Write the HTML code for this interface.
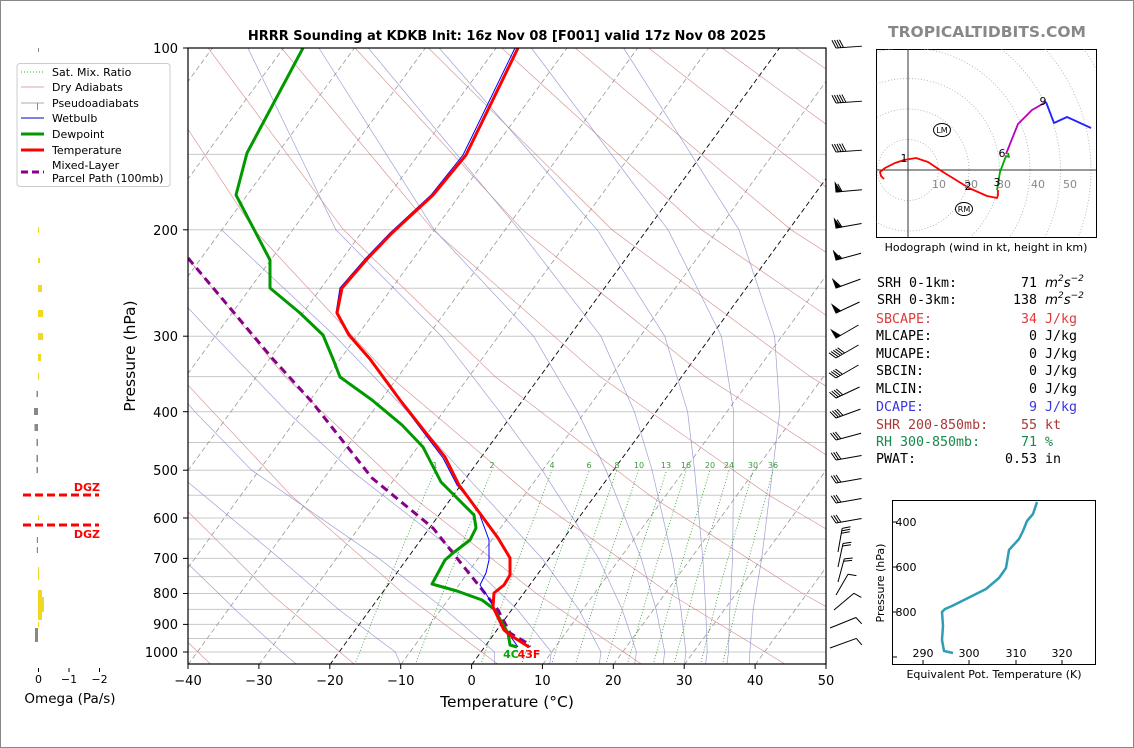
<!DOCTYPE html>
<html><head><meta charset="utf-8">
<style>
html,body{margin:0;padding:0;background:#fff;}
svg{display:block;font-family:"DejaVu Sans","Liberation Sans",sans-serif;}
</style></head>
<body>
<svg width="1134" height="748" viewBox="0 0 1134 748" xmlns="http://www.w3.org/2000/svg">
<defs>
<clipPath id="cp"><rect x="188" y="48" width="638" height="616"/></clipPath>
<clipPath id="hc"><rect x="876" y="49" width="220" height="188"/></clipPath>
</defs>
<rect x="0.5" y="0.5" width="1133" height="747" fill="#fff" stroke="#888"/>

<g clip-path="url(#cp)">
<g stroke="#c8c8c8" stroke-width="1">
<line x1="188" x2="826" y1="154.4" y2="154.4"/><line x1="188" x2="826" y1="229.8" y2="229.8"/><line x1="188" x2="826" y1="288.3" y2="288.3"/><line x1="188" x2="826" y1="336.2" y2="336.2"/><line x1="188" x2="826" y1="376.6" y2="376.6"/><line x1="188" x2="826" y1="411.7" y2="411.7"/><line x1="188" x2="826" y1="442.5" y2="442.5"/><line x1="188" x2="826" y1="470.2" y2="470.2"/><line x1="188" x2="826" y1="495.2" y2="495.2"/><line x1="188" x2="826" y1="518" y2="518"/><line x1="188" x2="826" y1="539" y2="539"/><line x1="188" x2="826" y1="558.4" y2="558.4"/><line x1="188" x2="826" y1="576.6" y2="576.6"/><line x1="188" x2="826" y1="593.5" y2="593.5"/><line x1="188" x2="826" y1="609.4" y2="609.4"/><line x1="188" x2="826" y1="624.4" y2="624.4"/><line x1="188" x2="826" y1="638.5" y2="638.5"/><line x1="188" x2="826" y1="652" y2="652"/>
</g>
<g stroke="#999" stroke-width="0.8" stroke-dasharray="5,3">
<line x1="-237.3" y1="664.8" x2="212.4" y2="48"/><line x1="-166.2" y1="664.8" x2="283.5" y2="48"/><line x1="-95.3" y1="664.8" x2="354.4" y2="48"/><line x1="-24.4" y1="664.8" x2="425.3" y2="48"/><line x1="46.4" y1="664.8" x2="496.1" y2="48"/><line x1="117.3" y1="664.8" x2="567" y2="48"/><line x1="188" y1="664.8" x2="637.7" y2="48"/><line x1="258.9" y1="664.8" x2="708.6" y2="48"/><line x1="400.7" y1="664.8" x2="850.4" y2="48"/><line x1="542.4" y1="664.8" x2="992.1" y2="48"/><line x1="613.3" y1="664.8" x2="1063" y2="48"/><line x1="684.2" y1="664.8" x2="1133.9" y2="48"/><line x1="755.1" y1="664.8" x2="1204.8" y2="48"/>
</g>
<g stroke="#000" stroke-width="0.9" stroke-dasharray="5,3">
<line x1="329.8" y1="664.8" x2="779.5" y2="48"/><line x1="471.6" y1="664.8" x2="921.3" y2="48"/>
</g>
<g fill="none" stroke="#d08080" stroke-width="0.7" stroke-opacity="0.8">
<polyline points="211.2,664.8 137.5,593.5"/>
<polyline points="355,664.8 270.5,593.5 171.4,495.2 75,376.6"/>
<polyline points="498.7,664.8 403.4,593.5 290.8,495.2 180,376.6 74.9,229.8"/>
<polyline points="642.5,664.8 536.5,593.5 410.3,495.2 285.1,376.6 164.4,229.8 61.3,48"/>
<polyline points="786.2,664.8 669.5,593.5 529.9,495.2 390.1,376.6 254,229.8 134.7,48"/>
<polyline points="930.1,664.8 802.6,593.5 649.4,495.2 495.1,376.6 343.5,229.8 208.1,48"/>
<polyline points="1073.9,664.8 935.5,593.5 768.9,495.2 600.1,376.6 433,229.8 281.5,48"/>
<polyline points="1217.5,664.8 1068.5,593.5 888.4,495.2 705.2,376.6 522.5,229.8 355,48"/>
<polyline points="1361.4,664.8 1201.6,593.5 1007.9,495.2 810.2,376.6 612,229.8 428.4,48"/>
<polyline points="1334.6,593.5 1127.5,495.2 915.3,376.6 701.6,229.8 501.8,48"/>
<polyline points="1246.9,495.2 1020.2,376.6 791,229.8 575.2,48"/>
<polyline points="1366.5,495.2 1125.3,376.6 880.6,229.8 648.6,48"/>
<polyline points="1230.3,376.6 970.1,229.8 722.1,48"/>
<polyline points="1335.4,376.6 1059.6,229.8 795.5,48"/>
<polyline points="1440.4,376.6 1149.2,229.8 869,48"/>
</g>
<g fill="none" stroke="#8888cc" stroke-width="0.7" stroke-opacity="0.8">
<polyline points="297.2,664.8 281.9,652 235,609.4 182.5,558.4"/>
<polyline points="400.7,664.8 395.3,652 338.5,609.4 279.6,558.4 173.6,470.2"/>
<polyline points="494.3,664.8 494.6,652 444.9,609.4 378.9,558.4 251.6,470.2 194.9,411.7 129.5,336.2"/>
<polyline points="549.6,664.8 551.3,652 517.2,609.4 464,558.4 350.8,470.2 287.1,411.7 214.6,336.2 115.2,229.8"/>
<polyline points="599.2,664.8 600.9,652 578.8,609.4 542,558.4 460.7,470.2 407.6,411.7 335.1,336.2 221.5,229.8"/>
<polyline points="634.6,664.8 636.4,652 622.1,609.4 598.6,558.4 542.2,470.2 499.7,411.7 441.4,336.2 335.9,229.8 247.9,48"/>
<polyline points="663,664.8 664.7,652 656.1,609.4 641.2,558.4 606,470.2 577.7,411.7 533.6,336.2 434.2,229.8 318.9,48"/>
<polyline points="684.3,664.8 685.9,652 680.9,609.4 672.3,558.4 652.1,470.2 634.4,411.7 600.9,336.2 519.2,229.8 368.3,48"/>
<polyline points="705.5,664.8 707.2,652 705.7,609.4 702.8,558.4 694.6,470.2 687.6,411.7 664.7,336.2 597.2,229.8 439.2,48"/>
<polyline points="726.8,664.8 728.5,652 729.8,609.4 732.6,558.4 733.6,470.2 733.7,411.7 721.4,336.2 668.1,229.8 531.4,48"/>
<polyline points="749.5,664.8 749.8,652 753.2,609.4 761.7,558.4 772.6,470.2 779.8,411.7 774.6,336.2 739,229.8 623.6,48"/>
</g>
<g fill="none" stroke="#2a9a2a" stroke-width="0.8" stroke-dasharray="1,2">
<polyline points="354.6,664.8 390.1,576.6 435.2,470.2"/>
<polyline points="415.2,664.8 448.9,576.6 491.9,470.2"/>
<polyline points="480.7,664.8 511.9,576.6 552,470.2"/>
<polyline points="521.4,664.8 551.1,576.6 589.4,470.2"/>
<polyline points="551.3,664.8 579.8,576.6 616.9,470.2"/>
<polyline points="575.2,664.8 602.7,576.6 638.7,470.2"/>
<polyline points="605.7,664.8 632.1,576.6 666.6,470.2"/>
<polyline points="627.1,664.8 652.7,576.6 686.3,470.2"/>
<polyline points="653.1,664.8 677.5,576.6 710,470.2"/>
<polyline points="673.8,664.8 697.5,576.6 729,470.2"/>
<polyline points="700.3,664.8 722.8,576.6 753.1,470.2"/>
<polyline points="722.3,664.8 743.9,576.6 773.1,470.2"/>
</g>
<g font-size="8" fill="#3a9a3a" text-anchor="middle">
<text x="435" y="468">1</text><text x="492" y="468">2</text><text x="552" y="468">4</text><text x="589" y="468">6</text><text x="617" y="468">8</text><text x="639" y="468">10</text><text x="666" y="468">13</text><text x="686" y="468">16</text><text x="710" y="468">20</text><text x="729" y="468">24</text><text x="753" y="468">30</text><text x="773" y="468">36</text>
</g>
<g fill="none" stroke-linejoin="round">
<polyline stroke="#808" stroke-width="3" stroke-dasharray="8,5" points="188,258 230,308 272,358 312,402 372,478 433,528 480,587 498,610 510,633 527,643 530,647"/>
<polyline stroke="#00f" stroke-width="1" points="515,48 463,155 431,195 390,233 366,258 340,288 336,313 348,335 369,359 399,400 443,458 457,485 478,510 489,540 489,560 486,573 480,585 488,597 504,627 518,647"/>
<polyline stroke="#090" stroke-width="3" points="303,48 247,153 236,195 270,260 270,288 300,313 323,335 333,359 340,377 372,400 402,425 423,447 441,482 474,515 476,528 470,540 453,553 445,560 432,584 457,591 482,600 494,609 508,633 510,645 517,647"/>
<polyline stroke="#f00" stroke-width="3" points="518,48 466,155 433,195 392,233 368,258 342,288 337,313 349,335 370,359 400,400 445,457 459,485 498,538 510,558 510,575 504,585 494,593 493,607 504,630 510,635 529,647"/>
</g>
</g>

<rect x="188" y="48" width="638" height="616" fill="none" stroke="#000" stroke-width="1.2"/>
<g stroke="#000">
<line x1="188" x2="188" y1="664" y2="669"/><line x1="258.9" x2="258.9" y1="664" y2="669"/><line x1="329.8" x2="329.8" y1="664" y2="669"/><line x1="400.7" x2="400.7" y1="664" y2="669"/><line x1="471.6" x2="471.6" y1="664" y2="669"/><line x1="542.4" x2="542.4" y1="664" y2="669"/><line x1="613.3" x2="613.3" y1="664" y2="669"/><line x1="684.2" x2="684.2" y1="664" y2="669"/><line x1="755.1" x2="755.1" y1="664" y2="669"/><line x1="826" x2="826" y1="664" y2="669"/>
<line x1="183" x2="188" y1="48" y2="48"/><line x1="183" x2="188" y1="229.8" y2="229.8"/><line x1="183" x2="188" y1="336.2" y2="336.2"/><line x1="183" x2="188" y1="411.7" y2="411.7"/><line x1="183" x2="188" y1="470.2" y2="470.2"/><line x1="183" x2="188" y1="518" y2="518"/><line x1="183" x2="188" y1="558.4" y2="558.4"/><line x1="183" x2="188" y1="593.5" y2="593.5"/><line x1="183" x2="188" y1="624.4" y2="624.4"/><line x1="183" x2="188" y1="652" y2="652"/>
</g>
<g font-size="13" text-anchor="middle">
<text x="188" y="685">−40</text><text x="258.9" y="685">−30</text><text x="329.8" y="685">−20</text><text x="400.7" y="685">−10</text><text x="471.6" y="685">0</text><text x="542.4" y="685">10</text><text x="613.3" y="685">20</text><text x="684.2" y="685">30</text><text x="755.1" y="685">40</text><text x="826" y="685">50</text>
</g>
<g font-size="13" text-anchor="end">
<text x="178" y="53">100</text><text x="178" y="235">200</text><text x="178" y="341">300</text><text x="178" y="417">400</text><text x="178" y="475">500</text><text x="178" y="523">600</text><text x="178" y="563">700</text><text x="178" y="598">800</text><text x="178" y="629">900</text><text x="178" y="657">1000</text>
</g>

<text x="507" y="40" text-anchor="middle" font-size="13" font-weight="bold">HRRR Sounding at KDKB Init: 16z Nov 08 [F001] valid 17z Nov 08 2025</text>
<text x="987" y="37" text-anchor="middle" font-size="15.5" font-weight="bold" fill="#888">TROPICALTIDBITS.COM</text>
<text x="507" y="707" text-anchor="middle" font-size="15.5">Temperature (°C)</text>
<text transform="translate(135,356) rotate(-90)" text-anchor="middle" font-size="15.5">Pressure (hPa)</text>
<text x="511" y="658" font-size="11" font-weight="bold" fill="#0a0" text-anchor="middle">4C</text>
<text x="529" y="658" font-size="11" font-weight="bold" fill="#f00" text-anchor="middle">43F</text>

<g fill="none" stroke="#000" stroke-width="1">
<g transform="translate(836,48) rotate(-4)"><path d="M0 0H26M0 0l-3.5 -8M2.5 0l-3.5 -8M5 0l-3.5 -8M7.5 0l-3.5 -8"/></g>
<g transform="translate(836,103) rotate(-4)"><path d="M0 0H26M0 0l-3.5 -8M2.5 0l-3.5 -8M5 0l-3.5 -8M7.5 0l-3.5 -8M10 0l-3.5 -8"/></g>
<g transform="translate(836,152) rotate(-4)"><path d="M0 0H26M0 0l-3.5 -8M2.5 0l-3.5 -8M5 0l-3.5 -8M7.5 0l-3.5 -8M10 0l-3.5 -8"/></g>
<g transform="translate(836,192) rotate(-5)"><path d="M0 0H26M6 0l-3.5 -8"/><path d="M0 0l0 -9l5 9z" fill="#000"/></g>
<g transform="translate(836,228) rotate(-10)"><path d="M0 0H26M6 0l-3.5 -8"/><path d="M0 0l0 -9l5 9z" fill="#000"/></g>
<g transform="translate(836,260) rotate(-15)"><path d="M0 0H26M6 0l-2 -4"/><path d="M0 0l0 -9l5 9z" fill="#000"/></g>
<g transform="translate(836,288) rotate(-20)"><path d="M0 0H26"/><path d="M0 0l0 -9l5 9z" fill="#000"/></g>
<g transform="translate(836,313) rotate(-25)"><path d="M0 0H26"/><path d="M0 0l0 -9l5 9z" fill="#000"/></g>
<g transform="translate(836,338) rotate(-30)"><path d="M0 0H26"/><path d="M0 0l0 -9l5 9z" fill="#000"/></g>
<g transform="translate(836,358) rotate(-30)"><path d="M0 0H26M0 0l-3.5 -8M2.5 0l-3.5 -8M5 0l-3.5 -8M7.5 0l-3.5 -8M10 0l-3.5 -8"/></g>
<g transform="translate(836,378) rotate(-30)"><path d="M0 0H26M0 0l-3.5 -8M2.5 0l-3.5 -8M5 0l-3.5 -8M7.5 0l-3.5 -8"/></g>
<g transform="translate(836,398) rotate(-25)"><path d="M0 0H26M0 0l-3.5 -8M2.5 0l-3.5 -8M5 0l-3.5 -8M7.5 0l-3.5 -8"/></g>
<g transform="translate(836,418) rotate(-20)"><path d="M0 0H26M0 0l-3.5 -8M2.5 0l-3.5 -8M5 0l-3.5 -8M7.5 0l-3.5 -8"/></g>
<g transform="translate(836,440) rotate(-15)"><path d="M0 0H26M0 0l-3.5 -8M2.5 0l-3.5 -8M5 0l-3.5 -8"/></g>
<g transform="translate(836,460) rotate(-10)"><path d="M0 0H26M0 0l-3.5 -8M2.5 0l-3.5 -8M5 0l-3.5 -8"/></g>
<g transform="translate(836,483) rotate(-10)"><path d="M0 0H26M0 0l-3.5 -8M2.5 0l-3.5 -8M5 0l-3.5 -8"/></g>
<g transform="translate(836,503) rotate(-10)"><path d="M0 0H26M0 0l-3.5 -8M2.5 0l-3.5 -8M5 0l-3.5 -8"/></g>
<g transform="translate(836,523) rotate(-10)"><path d="M0 0H26M0 0l-3.5 -8M2.5 0l-3.5 -8M5 0l-3.5 -8"/></g>
<g transform="translate(838,552) rotate(-80)"><path d="M0 0H24M24 0l3 8M21.5 0l3 8M19 0l3 8"/></g>
<g transform="translate(838,567) rotate(-78)"><path d="M0 0H24M24 0l3 8M21.5 0l3 8"/></g>
<g transform="translate(838,582) rotate(-75)"><path d="M0 0H24M24 0l3 8M21.5 0l3 8"/></g>
<g transform="translate(836,595) rotate(-60)"><path d="M0 0H24M24 0l3 8"/></g>
<g transform="translate(834,610) rotate(-40)"><path d="M0 0H26M26 0l3 8"/></g>
<g transform="translate(830,628) rotate(-22)"><path d="M0 0H28M28 0l3 8"/></g>
<g transform="translate(830,648) rotate(-20)"><path d="M0 0H28M28 0l3 8"/></g>
</g>

<g>
<rect x="38" y="48" width="1" height="4" fill="#888"/>
<rect x="38" y="227" width="1" height="6" fill="#f0d820"/><rect x="38" y="258" width="2" height="5" fill="#f0d820"/><rect x="38" y="285" width="4" height="7" fill="#f0d820"/><rect x="38" y="310" width="5" height="7" fill="#f0d820"/><rect x="38" y="333" width="5" height="7" fill="#f0d820"/><rect x="38" y="354" width="3" height="7" fill="#f0d820"/><rect x="38" y="373" width="1" height="7" fill="#f0d820"/>
<rect x="36.5" y="391" width="1.5" height="6" fill="#888"/><rect x="34" y="408" width="4" height="7" fill="#888"/><rect x="34.5" y="424" width="3.5" height="7" fill="#888"/><rect x="36.5" y="439" width="1.5" height="7" fill="#888"/><rect x="36.5" y="455" width="1.5" height="7" fill="#888"/><rect x="36.5" y="467" width="1.5" height="6" fill="#888"/>
<rect x="38" y="493" width="1" height="4" fill="#f0d820"/><rect x="38" y="515" width="1" height="5" fill="#f0d820"/><rect x="36.8" y="537" width="1.2" height="6" fill="#888"/><rect x="36.8" y="547" width="1.2" height="6" fill="#888"/>
<rect x="38" y="567" width="1" height="13" fill="#f0d820"/><rect x="38" y="590" width="4" height="7" fill="#f0d820"/><rect x="38" y="597" width="6" height="15" fill="#f0d820"/><rect x="38" y="612" width="4" height="8" fill="#f0d820"/><rect x="38" y="622" width="1" height="5" fill="#f0d820"/><rect x="35" y="628" width="3" height="14" fill="#888"/>
</g>
<g font-size="11" fill="#000">
<line x1="38.5" y1="668" x2="38.5" y2="672" stroke="#000"/>
<line x1="69" y1="668" x2="69" y2="672" stroke="#000"/>
<line x1="99.5" y1="668" x2="99.5" y2="672" stroke="#000"/>
<text x="38.5" y="683" text-anchor="middle">0</text>
<text x="69" y="683" text-anchor="middle">−1</text>
<text x="99.5" y="683" text-anchor="middle">−2</text>
<text x="70" y="703" text-anchor="middle" font-size="13.5">Omega (Pa/s)</text>
</g>
<line x1="23" y1="495" x2="99" y2="495" stroke="#f00" stroke-width="3" stroke-dasharray="8,4"/>
<line x1="23" y1="525" x2="99" y2="525" stroke="#f00" stroke-width="3" stroke-dasharray="8,4"/>
<text x="100" y="491" text-anchor="end" font-size="11" font-weight="bold" fill="#f00">DGZ</text>
<text x="100" y="538" text-anchor="end" font-size="11" font-weight="bold" fill="#f00">DGZ</text>

<g font-size="11">
<rect x="17" y="63.5" width="153" height="123" rx="3" fill="#fff" fill-opacity="0.85" stroke="#ccc"/>
<line x1="21" y1="72" x2="44" y2="72" stroke="#2a2" stroke-dasharray="1,2"/>
<text x="52" y="76">Sat. Mix. Ratio</text>
<line x1="21" y1="87" x2="44" y2="87" stroke="#d9a8a8"/>
<text x="52" y="91">Dry Adiabats</text>
<line x1="21" y1="103" x2="44" y2="103" stroke="#aab"/>
<line x1="37.5" y1="103" x2="37.5" y2="110" stroke="#888"/>
<text x="52" y="107">Pseudoadiabats</text>
<line x1="21" y1="118" x2="44" y2="118" stroke="#00c"/>
<text x="52" y="122">Wetbulb</text>
<line x1="21" y1="134" x2="44" y2="134" stroke="#090" stroke-width="3"/>
<text x="52" y="138">Dewpoint</text>
<line x1="21" y1="150" x2="44" y2="150" stroke="#f00" stroke-width="3"/>
<text x="52" y="154">Temperature</text>
<line x1="21" y1="172" x2="44" y2="172" stroke="#808" stroke-width="3" stroke-dasharray="7,4"/>
<text x="52" y="169">Mixed-Layer</text>
<text x="52" y="182">Parcel Path (100mb)</text>
</g>

<rect x="876.5" y="49.5" width="220" height="188" fill="#fff" stroke="#000"/>
<g clip-path="url(#hc)">
<g fill="none" stroke="#aaa" stroke-width="0.8" stroke-dasharray="1,2">
<circle cx="908" cy="170" r="30.5"/><circle cx="908" cy="170" r="61"/><circle cx="908" cy="170" r="91.5"/><circle cx="908" cy="170" r="122"/><circle cx="908" cy="170" r="152.5"/><circle cx="908" cy="170" r="183"/><circle cx="908" cy="170" r="213.5"/>
</g>
<line x1="908" x2="908" y1="49" y2="237" stroke="#333"/>
<line x1="876" x2="1096" y1="170" y2="170" stroke="#333"/>
<g fill="none" stroke-width="1.8" stroke-linejoin="round">
<polyline stroke="#f00" points="884,179 881,176 880,172 885,168 895,163 904,160 916,158 928,162 943,172 969,188 987,196 997,198 998,195 998,190"/>
<polyline stroke="#0a0" points="997,190 1000,172 1006,156 1009,157 1008,153"/>
<polyline stroke="#b0b" points="1006,154 1008,149 1018,124 1032,110 1046,102"/>
<polyline stroke="#22f" points="1046,102 1054,123 1067,117 1091,128"/>
</g>
</g>
<g font-size="11" fill="#888">
<text x="939" y="188" text-anchor="middle">10</text>
<text x="971" y="188" text-anchor="middle">20</text>
<text x="1004" y="188" text-anchor="middle">30</text>
<text x="1038" y="188" text-anchor="middle">40</text>
<text x="1070" y="188" text-anchor="middle">50</text>
</g>
<g font-size="11" fill="#000" text-anchor="middle">
<text x="904" y="162">1</text><text x="968" y="190">2</text><text x="997" y="186">3</text><text x="1002" y="157">6</text><text x="1043" y="105">9</text>
</g>
<ellipse cx="942" cy="130" rx="8.5" ry="6.5" fill="#fff" stroke="#000"/>
<text x="942" y="133" font-size="8" text-anchor="middle">LM</text>
<ellipse cx="964" cy="209" rx="8.5" ry="6.5" fill="#fff" stroke="#000"/>
<text x="964" y="212" font-size="8" text-anchor="middle">RM</text>
<text x="986" y="251" font-size="11" text-anchor="middle">Hodograph (wind in kt, height in km)</text>

<g font-family="'DejaVu Sans Mono','Liberation Mono',monospace" font-size="13.3">
<text x="877" y="287">SRH 0-1km:</text><text x="1037" y="287" text-anchor="end">71</text><text x="1045" y="287" font-style="italic" font-family="'DejaVu Sans',sans-serif">m<tspan font-size="9" dy="-6">2</tspan><tspan dy="6">s</tspan><tspan font-size="9" dy="-6">−2</tspan></text>
<text x="877" y="304">SRH 0-3km:</text><text x="1037" y="304" text-anchor="end">138</text><text x="1045" y="304" font-style="italic" font-family="'DejaVu Sans',sans-serif">m<tspan font-size="9" dy="-6">2</tspan><tspan dy="6">s</tspan><tspan font-size="9" dy="-6">−2</tspan></text>
<g fill="#e03a3a"><text x="876" y="323">SBCAPE:</text><text x="1037" y="323" text-anchor="end">34</text><text x="1045" y="323">J/kg</text></g>
<text x="876" y="340">MLCAPE:</text><text x="1037" y="340" text-anchor="end">0</text><text x="1045" y="340">J/kg</text>
<text x="876" y="358">MUCAPE:</text><text x="1037" y="358" text-anchor="end">0</text><text x="1045" y="358">J/kg</text>
<text x="876" y="375">SBCIN:</text><text x="1037" y="375" text-anchor="end">0</text><text x="1045" y="375">J/kg</text>
<text x="876" y="393">MLCIN:</text><text x="1037" y="393" text-anchor="end">0</text><text x="1045" y="393">J/kg</text>
<g fill="#3838dd"><text x="876" y="411">DCAPE:</text><text x="1037" y="411" text-anchor="end">9</text><text x="1045" y="411">J/kg</text></g>
<g fill="#a83838"><text x="876" y="429">SHR 200-850mb:</text><text x="1037" y="429" text-anchor="end">55</text><text x="1045" y="429">kt</text></g>
<g fill="#17894a"><text x="876" y="446">RH 300-850mb:</text><text x="1037" y="446" text-anchor="end">71</text><text x="1045" y="446">%</text></g>
<text x="876" y="463">PWAT:</text><text x="1037" y="463" text-anchor="end">0.53</text><text x="1045" y="463">in</text>
</g>

<rect x="892.5" y="500.5" width="203" height="164" fill="none" stroke="#000"/>
<g font-size="11">
<text x="906" y="526" text-anchor="middle">400</text><line x1="893" y1="522" x2="897" y2="522" stroke="#000"/>
<text x="906" y="571" text-anchor="middle">600</text><line x1="893" y1="567" x2="897" y2="567" stroke="#000"/>
<text x="906" y="616" text-anchor="middle">800</text><line x1="893" y1="612" x2="897" y2="612" stroke="#000"/>
<line x1="893" y1="657" x2="897" y2="657" stroke="#000"/>
<text x="923" y="657" text-anchor="middle">290</text><line x1="923" y1="660" x2="923" y2="664" stroke="#000"/>
<text x="969" y="657" text-anchor="middle">300</text><line x1="969" y1="660" x2="969" y2="664" stroke="#000"/>
<text x="1016" y="657" text-anchor="middle">310</text><line x1="1016" y1="660" x2="1016" y2="664" stroke="#000"/>
<text x="1062" y="657" text-anchor="middle">320</text><line x1="1062" y1="660" x2="1062" y2="664" stroke="#000"/>
<text x="994" y="678" text-anchor="middle">Equivalent Pot. Temperature (K)</text>
<text transform="translate(884,583) rotate(-90)" text-anchor="middle">Pressure (hPa)</text>
</g>
<polyline fill="none" stroke="#2e9db5" stroke-width="2.5" stroke-linejoin="round" points="1037,502 1033,514 1027,521 1023,531 1019,539 1009,550 1006,568 999,578 986,589 970,597 952,606 945,609 942,612 943,626 942,640 944,651 953,653"/>
</svg>
</body></html>
